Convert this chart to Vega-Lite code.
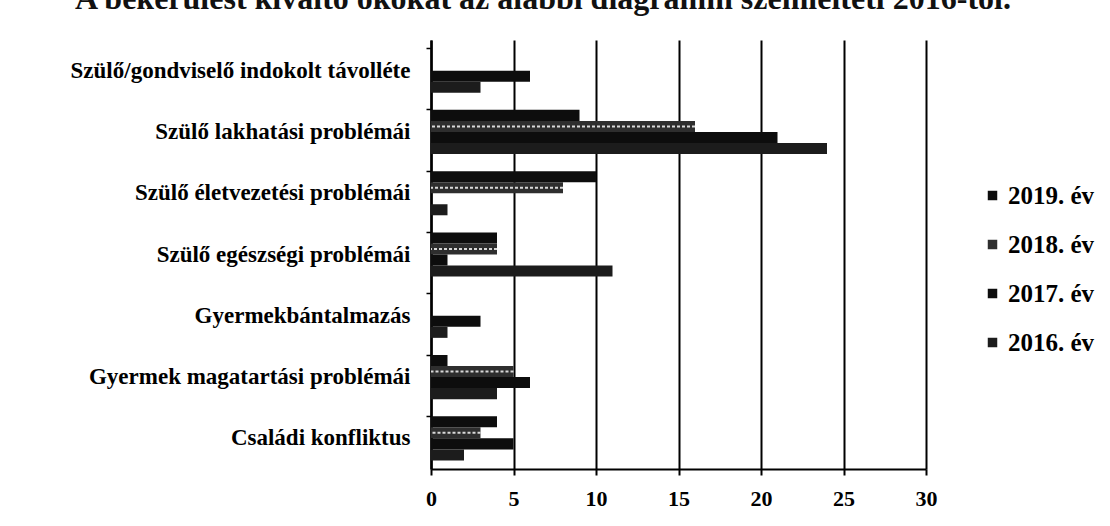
{
  "$schema": "https://vega.github.io/schema/vega-lite/v6.json",
  "autosize": {"type": "none"},
  "width": 495,
  "height": 429,
  "padding": {"left": 431, "top": 40, "right": 184, "bottom": 57},
  "background": "white",
  "title": {
    "text": "A bekerülést kiváltó okokat az alábbi diagramm szemlélteti 2016-tól.",
    "anchor": "start",
    "frame": "group",
    "orient": "top",
    "font": "Liberation Serif",
    "fontSize": 32,
    "fontWeight": "bold",
    "color": "#111",
    "dx": -356,
    "offset": 24
  },
  "data": {
    "values": [
      {"ok": "Szülő/gondviselő indokolt távolléte", "ev": "2019. év", "db": 0},
      {"ok": "Szülő/gondviselő indokolt távolléte", "ev": "2018. év", "db": 0},
      {"ok": "Szülő/gondviselő indokolt távolléte", "ev": "2017. év", "db": 6},
      {"ok": "Szülő/gondviselő indokolt távolléte", "ev": "2016. év", "db": 3},
      {"ok": "Szülő lakhatási problémái", "ev": "2019. év", "db": 9},
      {"ok": "Szülő lakhatási problémái", "ev": "2018. év", "db": 16},
      {"ok": "Szülő lakhatási problémái", "ev": "2017. év", "db": 21},
      {"ok": "Szülő lakhatási problémái", "ev": "2016. év", "db": 24},
      {"ok": "Szülő életvezetési problémái", "ev": "2019. év", "db": 10},
      {"ok": "Szülő életvezetési problémái", "ev": "2018. év", "db": 8},
      {"ok": "Szülő életvezetési problémái", "ev": "2017. év", "db": 0},
      {"ok": "Szülő életvezetési problémái", "ev": "2016. év", "db": 1},
      {"ok": "Szülő egészségi problémái", "ev": "2019. év", "db": 4},
      {"ok": "Szülő egészségi problémái", "ev": "2018. év", "db": 4},
      {"ok": "Szülő egészségi problémái", "ev": "2017. év", "db": 1},
      {"ok": "Szülő egészségi problémái", "ev": "2016. év", "db": 11},
      {"ok": "Gyermekbántalmazás", "ev": "2019. év", "db": 0},
      {"ok": "Gyermekbántalmazás", "ev": "2018. év", "db": 0},
      {"ok": "Gyermekbántalmazás", "ev": "2017. év", "db": 3},
      {"ok": "Gyermekbántalmazás", "ev": "2016. év", "db": 1},
      {"ok": "Gyermek magatartási problémái", "ev": "2019. év", "db": 1},
      {"ok": "Gyermek magatartási problémái", "ev": "2018. év", "db": 5},
      {"ok": "Gyermek magatartási problémái", "ev": "2017. év", "db": 6},
      {"ok": "Gyermek magatartási problémái", "ev": "2016. év", "db": 4},
      {"ok": "Családi konfliktus", "ev": "2019. év", "db": 4},
      {"ok": "Családi konfliktus", "ev": "2018. év", "db": 3},
      {"ok": "Családi konfliktus", "ev": "2017. év", "db": 5},
      {"ok": "Családi konfliktus", "ev": "2016. év", "db": 2}
    ]
  },
  "encoding": {
    "y": {
      "field": "ok",
      "type": "nominal",
      "sort": null,
      "title": null,
      "scale": {"paddingInner": 0.28, "paddingOuter": 0.14},
      "axis": {
        "bandPosition": 0,
        "domainColor": "#000",
        "domainWidth": 2.5,
        "tickColor": "#000",
        "tickWidth": 1.5,
        "tickSize": 5,
        "labelFont": "Liberation Serif",
        "labelFontSize": 23,
        "labelFontWeight": "bold",
        "labelColor": "#000",
        "labelPadding": 16,
        "labelLimit": 430
      }
    },
    "yOffset": {
      "field": "ev",
      "type": "nominal",
      "scale": {"domain": ["2019. év", "2018. év", "2017. év", "2016. év"], "paddingInner": 0, "paddingOuter": 0}
    },
    "x": {
      "field": "db",
      "type": "quantitative",
      "title": null,
      "scale": {"domain": [0, 30], "nice": false},
      "axis": {
        "values": [0, 5, 10, 15, 20, 25, 30],
        "grid": true,
        "gridColor": "#000",
        "gridWidth": 2,
        "gridOpacity": 1,
        "domainColor": "#000",
        "domainWidth": 2,
        "tickColor": "#000",
        "tickWidth": 2,
        "tickSize": 6,
        "labelFont": "Liberation Serif",
        "labelFontSize": 22,
        "labelFontWeight": "bold",
        "labelColor": "#000",
        "labelPadding": 13,
        "labelFlush": false
      }
    }
  },
  "layer": [
    {
      "mark": {"type": "bar"},
      "encoding": {
        "color": {
          "field": "ev",
          "type": "nominal",
          "title": null,
          "scale": {
            "domain": ["2019. év", "2018. év", "2017. év", "2016. év"],
            "range": ["#0d0d0d", "#2e2e2e", "#0d0d0d", "#1c1c1c"]
          },
          "legend": {
            "orient": "none",
            "legendX": 549,
            "legendY": 143,
            "symbolType": "square",
            "symbolSize": 90,
            "labelFont": "Liberation Serif",
            "labelFontSize": 25,
            "labelFontWeight": "bold",
            "labelColor": "#000",
            "labelOffset": 3,
            "rowPadding": 23
          }
        }
      }
    },
    {
      "transform": [{"filter": "datum.ev == '2018. év' && datum.db > 0"}],
      "mark": {"type": "rule", "color": "#d8d8d8", "strokeWidth": 2, "strokeDash": [3, 2], "yOffset": 2},
      "encoding": {
        "x2": {"datum": 0}
      }
    }
  ],
  "config": {
    "view": {"stroke": null}
  }
}
